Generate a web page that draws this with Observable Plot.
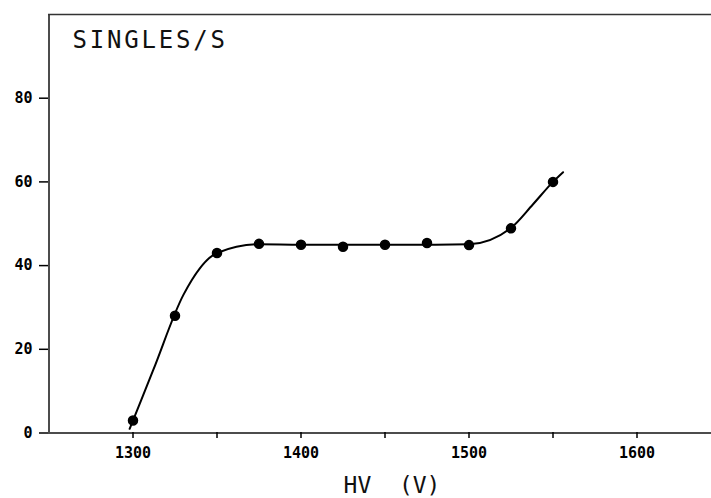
<!DOCTYPE html>
<html>
<head>
<meta charset="utf-8">
<script src="https://cdn.jsdelivr.net/npm/d3@7"></script>
<script src="https://cdn.jsdelivr.net/npm/@observablehq/plot@0.6"></script>
<style>
  html, body { margin: 0; padding: 0; background: white; overflow: hidden; }
  #chart svg { display: block; }
</style>
</head>
<body>
<div id="chart"></div>
<script>
// Measured points
const hv = [1300, 1325, 1350, 1375, 1400, 1425, 1450, 1475, 1500, 1525, 1550];
const singles = [3, 28, 43, 45.2, 45, 44.5, 45, 45.4, 44.9, 48.9, 60];

// Hand-drawn smooth fit curve (knots)
const fitHV = [1298, 1312, 1330, 1350, 1375, 1400, 1480, 1500, 1525, 1538, 1550, 1556];
const fitSingles = [1, 15, 33, 43, 45.1, 45, 45, 45.1, 49, 54.6, 60, 62.3];

// Axis ticks
const xTicks = [1300, 1350, 1400, 1450, 1500, 1550, 1600];
const xTickLabels = [1300, 1400, 1500, 1600];
const yTicks = [0, 20, 40, 60, 80];

const title = "SINGLES/S";
const xLabel = "HV  (V)";

const points = hv.map((x, i) => ({x, y: singles[i]}));
const fit = fitHV.map((x, i) => ({x, y: fitSingles[i]}));
const mono = "DejaVu Sans Mono, Liberation Mono, monospace";

const plot = Plot.plot({
  width: 711,
  height: 498,
  marginLeft: 48,
  marginTop: 14,
  marginBottom: 66,
  marginRight: 0,
  x: {domain: [1250, 1650], range: [48.5, 720.5]},
  y: {domain: [0, 100], range: [432.5, 14]},
  style: {background: "white", color: "black", fontFamily: mono},
  marks: [
    Plot.ruleX([1250], {stroke: "#111", strokeWidth: 1.5}),
    Plot.ruleY([100], {stroke: "#333", strokeWidth: 1.5}),
    Plot.ruleY([0], {stroke: "#111", strokeWidth: 1.5}),
    Plot.axisY({
      ticks: yTicks, tickSize: 9, tickPadding: 7, label: null,
      tickFormat: d => String(d), fontSize: 15, fontWeight: "bold",
      fontFamily: mono, strokeWidth: 1.5
    }),
    Plot.axisX({
      ticks: xTicks, tickSize: 6, tickPadding: 9, label: null,
      tickFormat: d => xTickLabels.includes(d) ? String(d) : "",
      fontSize: 15, fontWeight: "bold", fontFamily: mono, strokeWidth: 1.5
    }),
    Plot.line(fit, {x: "x", y: "y", curve: "monotone-x", stroke: "black", strokeWidth: 2}),
    Plot.dot(points, {x: "x", y: "y", r: 4.5, fill: "black", stroke: "black"}),
    Plot.text([title], {
      frameAnchor: "top-left", dx: 24, dy: 16, lineAnchor: "top", textAnchor: "start",
      fontSize: 24, fontFamily: mono, fill: "#111"
    }),
    Plot.text([xLabel], {
      frameAnchor: "bottom", dx: 12, dy: 53, lineAnchor: "middle",
      fontSize: 23, fontFamily: mono, fill: "#111"
    })
  ]
});

plot.querySelectorAll("text").forEach(t => {
  if (t.textContent === title) t.style.letterSpacing = "2.8px";
});

document.getElementById("chart").appendChild(plot);
</script>
</body>
</html>
